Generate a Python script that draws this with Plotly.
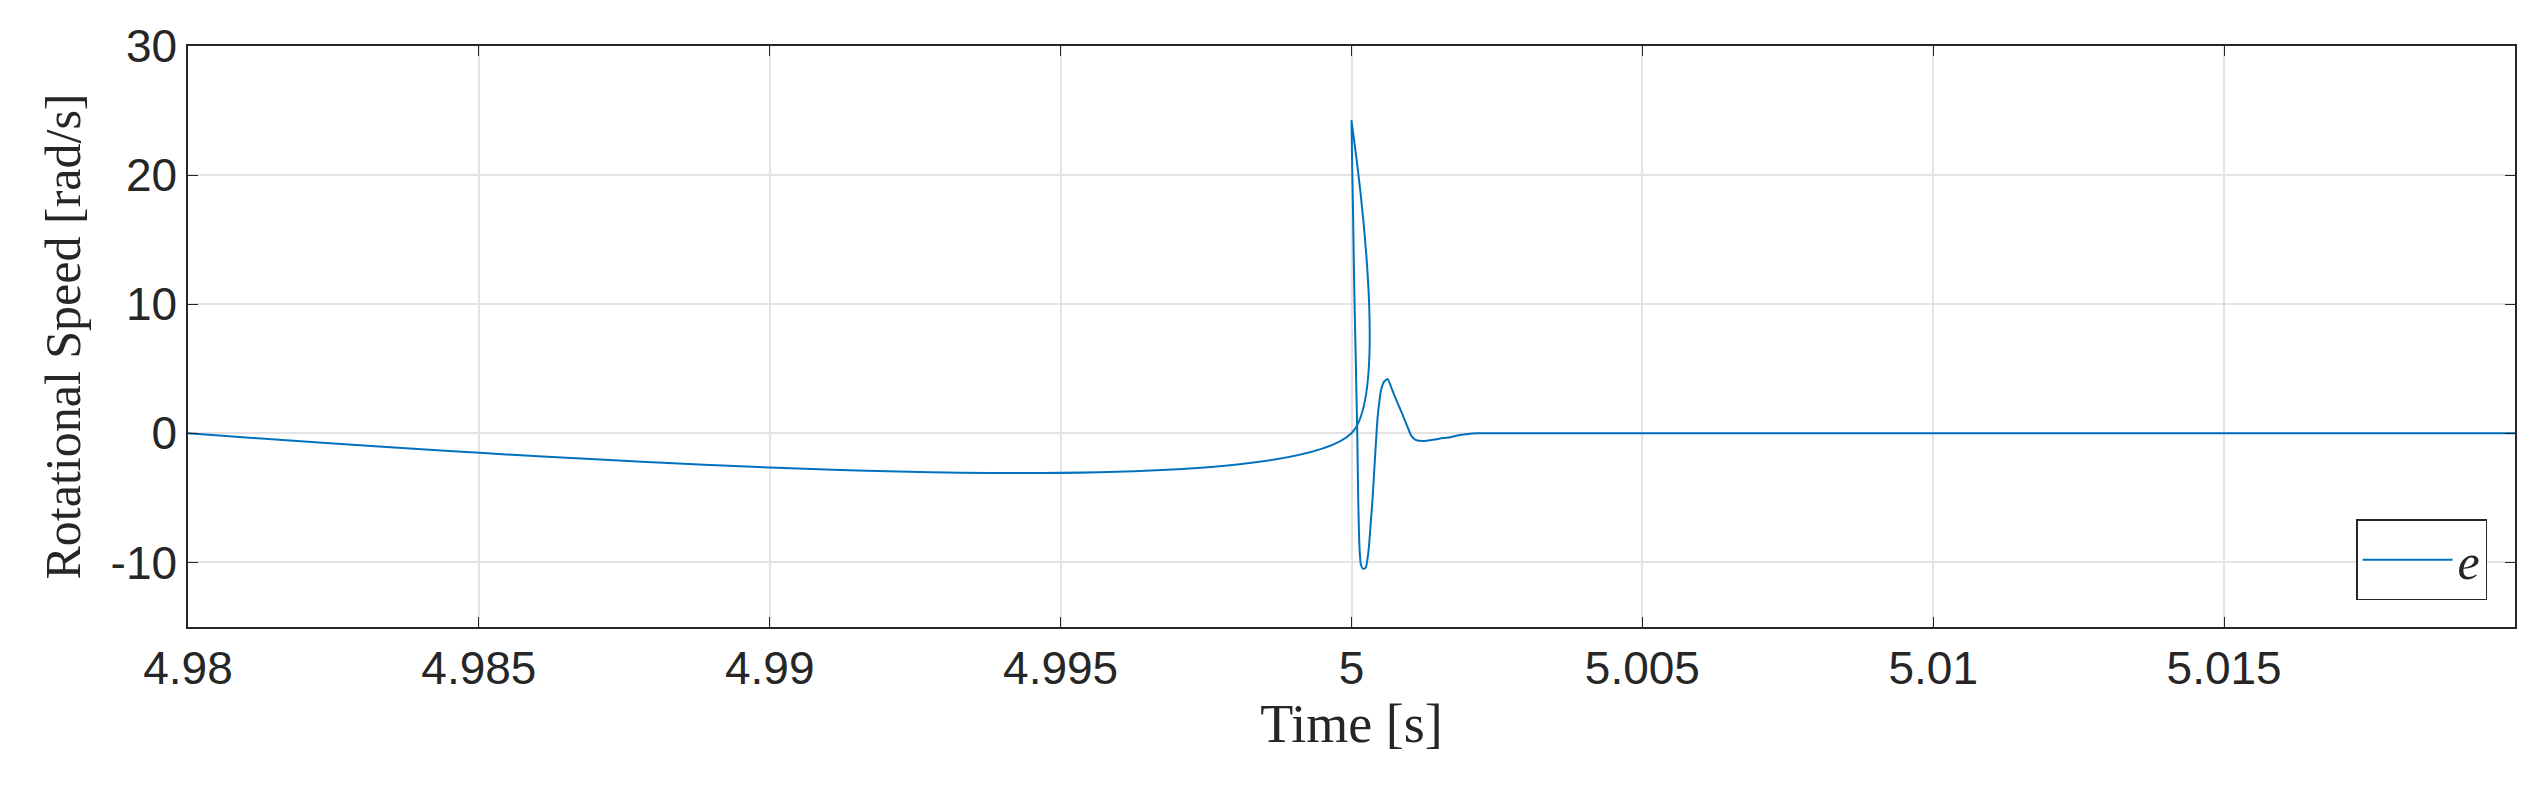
import plotly.graph_objects as go

# time offsets from 5 s in ms, and speed values
t_ms = [-20.0, -0.001, 0.0, 0.012, 0.029, 0.041, 0.055, 0.070, 0.085, 0.099, 0.116, 0.140,
        0.163, 0.200, 0.244, 0.290, 0.330, 0.360, 0.400, 0.430, 0.448, 0.480, 0.506, 0.560,
        0.622, 0.680, 0.750, 0.826, 0.900, 0.980, 1.029, 1.100, 1.233, 1.400, 1.581, 1.700,
        1.866, 2.000, 2.163, 3.0, 20.0]
speed = [0.0, 0.0, 24.2, 20.6, 16.5, 12.9, 9.5, 6.4, 3.1, 0.0, -5.2, -9.1,
         -10.2, -10.5, -10.4, -9.2, -7.0, -5.2, -2.2, 0.0, 1.2, 2.5, 3.3, 4.0,
         4.2, 3.6, 2.8, 2.0, 1.2, 0.3, -0.2, -0.5, -0.6, -0.5, -0.36, -0.3,
         -0.13, -0.05, 0.0, 0.0, 0.0]
time = [5.0 + v / 1000.0 for v in t_ms]

x_ticks = [4.98, 4.985, 4.99, 4.995, 5.0, 5.005, 5.01, 5.015, 5.02]
x_tick_text = ["4.98", "4.985", "4.99", "4.995", "5", "5.005", "5.01", "5.015", "5.02"]
y_ticks = [-10, 0, 10, 20, 30]
y_tick_text = ["-10", "0", "10", "20", "30"]

fig = go.Figure()
fig.add_trace(go.Scatter(x=time, y=speed, mode="lines", name="<i>e</i>", line_shape="spline",
                         line=dict(color="#0072BD", width=2, smoothing=0.6)))

axis_common = dict(showline=True, mirror="ticks", linecolor="#262626", linewidth=1.5,
                   ticks="inside", ticklen=10, tickcolor="#262626",
                   showgrid=True, gridcolor="#e3e3e3", gridwidth=1.5, zeroline=False,
                   tickfont=dict(family="Liberation Sans", size=46, color="#262626"))
fig.update_xaxes(range=[4.98, 5.02000001], tickvals=x_ticks, ticktext=x_tick_text,
                 title=dict(text="Time [s]", font=dict(family="Liberation Serif", size=54, color="#262626"), standoff=10),
                 **axis_common)
fig.update_yaxes(range=[-15, 30], tickvals=y_ticks, ticktext=y_tick_text,
                 title=dict(text="Rotational Speed [rad/s]", font=dict(family="Liberation Serif", size=50, color="#262626"), standoff=14),
                 **axis_common)
fig.update_layout(width=2543, height=787, margin=dict(l=180, r=36, t=32, b=168),
                  plot_bgcolor="white", paper_bgcolor="white", showlegend=True,
                  legend=dict(x=0.988, y=0.046, xanchor="right", yanchor="bottom",
                              bordercolor="#262626", borderwidth=1.5, bgcolor="white",
                              font=dict(family="Liberation Serif", size=50, color="#262626"),
                              itemwidth=90))
fig.write_html("out.html")
